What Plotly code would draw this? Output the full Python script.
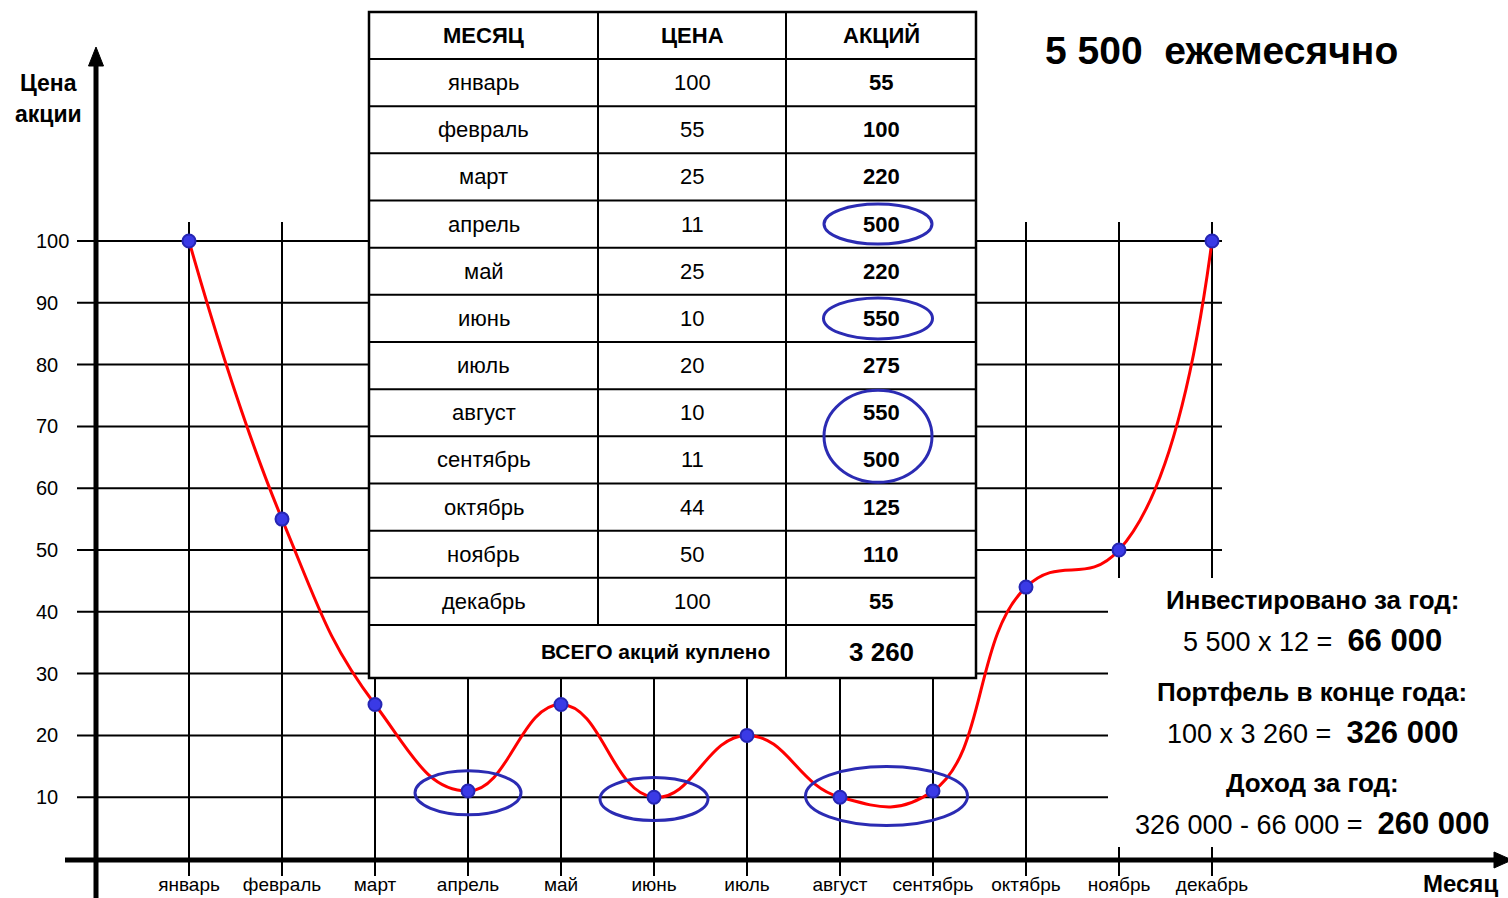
import plotly.graph_objects as go

# ---------------- data ----------------
months = ["январь", "февраль", "март", "апрель", "май", "июнь", "июль",
          "август", "сентябрь", "октябрь", "ноябрь", "декабрь"]
prices = [100, 55, 25, 11, 25, 10, 20, 10, 11, 44, 50, 100]
shares = [55, 100, 220, 500, 220, 550, 275, 550, 500, 125, 110, 55]
y_ticks = [10, 20, 30, 40, 50, 60, 70, 80, 90, 100]
table_header = ["МЕСЯЦ", "ЦЕНА", "АКЦИЙ"]
total_label = "ВСЕГО акций куплено"
total_shares = "3 260"
title_text = "5 500\u00a0\u00a0ежемесячно"
y_title = ["Цена", "акции"]
x_title = "Месяц"
summary_lines = [
    ("Инвестировано за год:", None),
    ("5 500 x 12 =", "66 000"),
    ("Портфель в конце года:", None),
    ("100 x 3 260 =", "326 000"),
    ("Доход за год:", None),
    ("326 000 - 66 000 =", "260 000"),
]
circled_rows = [[3], [5], [7, 8]]   # апрель, июнь, август+сентябрь

# ---------------- layout constants (pixels) ----------------
W, H = 1508, 898
L_MARGIN = 33
X0_PX, DX_PX = 189, 93.0      # pixel of first month, pixels per month
Y0_PX, DY_PX = 859, 6.18      # pixel of price 0, pixels per price unit
FONT = "Liberation Sans, Arial, sans-serif"
BLUE_RING = "#2b2bb3"


def dx(px):
    return (px - X0_PX) / DX_PX


def dy(py):
    return (Y0_PX - py) / DY_PX


fig = go.Figure()
fig.add_trace(go.Scatter(
    x=list(range(len(months))), y=prices, mode="lines+markers",
    line=dict(color="#ff0000", width=3, shape="spline", smoothing=1.3),
    marker=dict(size=13, color="#3a3ae6", line=dict(color="#2626b4", width=2)),
    hoverinfo="skip", showlegend=False, cliponaxis=False,
))

shapes = []
# horizontal grid lines
for v in y_ticks:
    shapes.append(dict(type="line", xref="x", yref="y", x0=dx(77), x1=dx(1222), y0=v, y1=v,
                       line=dict(color="black", width=2), layer="below"))
# vertical grid lines + tick marks
for i in range(len(months)):
    shapes.append(dict(type="line", xref="x", yref="y", x0=i, x1=i, y0=dy(876), y1=dy(222),
                       line=dict(color="black", width=2), layer="below"))
# white cover behind summary text
shapes.append(dict(type="rect", xref="x", yref="y", x0=dx(1108), x1=dx(1520), y0=dy(847), y1=dy(578),
                   fillcolor="white", line=dict(width=0), layer="below"))
# axes
AX_X = dx(96)
shapes.append(dict(type="line", xref="x", yref="y", x0=AX_X, x1=AX_X, y0=dy(905), y1=dy(62),
                   line=dict(color="black", width=5), layer="below"))
shapes.append(dict(type="path", xref="x", yref="y",
                   path=f"M {AX_X},{dy(47)} L {dx(88.5)},{dy(66)} L {dx(103.5)},{dy(66)} Z",
                   fillcolor="black", line=dict(color="black", width=1), layer="below"))
shapes.append(dict(type="line", xref="x", yref="y", x0=dx(65), x1=dx(1498), y0=dy(860), y1=dy(860),
                   line=dict(color="black", width=5), layer="below"))
shapes.append(dict(type="path", xref="x", yref="y",
                   path=f"M {dx(1512)},{dy(860)} L {dx(1494)},{dy(852)} L {dx(1494)},{dy(868)} Z",
                   fillcolor="black", line=dict(color="black", width=1), layer="below"))

# ellipses around chart points
ring_sizes = [(53, 22), (54, 21.5), (81, 29.5)]
for rows, (rx, ry) in zip(circled_rows, ring_sizes):
    cx = sum(rows) / len(rows)
    cy = sum(prices[r] for r in rows) / len(rows) - 0.3
    shapes.append(dict(type="circle", xref="x", yref="y",
                       x0=cx - rx / DX_PX, x1=cx + rx / DX_PX, y0=cy - ry / DY_PX, y1=cy + ry / DY_PX,
                       line=dict(color=BLUE_RING, width=3), layer="above"))

# ---------------- table ----------------
T_COLS = [369, 598, 786, 976]
T_TOP, HEAD_H, ROW_H, TOTAL_H = 12, 47, 47.17, 53
n = len(months)
row_edges = [T_TOP, T_TOP + HEAD_H] + [T_TOP + HEAD_H + ROW_H * (k + 1) for k in range(n)]
T_BOTTOM = row_edges[-1] + TOTAL_H

shapes.append(dict(type="rect", xref="x", yref="y", x0=dx(T_COLS[0]), x1=dx(T_COLS[-1]),
                   y0=dy(T_BOTTOM), y1=dy(T_TOP), fillcolor="white",
                   line=dict(color="black", width=2.5), layer="above"))
for e in row_edges[1:]:
    shapes.append(dict(type="line", xref="x", yref="y", x0=dx(T_COLS[0]), x1=dx(T_COLS[-1]),
                       y0=dy(e), y1=dy(e), line=dict(color="black", width=2), layer="above"))
shapes.append(dict(type="line", xref="x", yref="y", x0=dx(T_COLS[1]), x1=dx(T_COLS[1]),
                   y0=dy(row_edges[-1]), y1=dy(T_TOP), line=dict(color="black", width=2), layer="above"))
shapes.append(dict(type="line", xref="x", yref="y", x0=dx(T_COLS[2]), x1=dx(T_COLS[2]),
                   y0=dy(T_BOTTOM), y1=dy(T_TOP), line=dict(color="black", width=2), layer="above"))

annotations = []
col_c = [(T_COLS[k] + T_COLS[k + 1]) / 2 for k in range(3)]


def txt(px, py, text, size, bold=False, xanchor="center"):
    annotations.append(dict(x=dx(px), y=dy(py), xref="x", yref="y", text=text, showarrow=False,
                            xanchor=xanchor, yanchor="middle",
                            font=dict(family=FONT, size=size, color="black",
                                      weight="bold" if bold else "normal")))


for k, h in enumerate(table_header):
    txt(col_c[k], T_TOP + HEAD_H / 2, h, 22, bold=True)
for r in range(n):
    yc = row_edges[r + 1] + ROW_H / 2
    txt(col_c[0], yc, months[r], 22)
    txt(col_c[1], yc, str(prices[r]), 22)
    txt(col_c[2], yc, str(shares[r]), 22, bold=True)
yc_tot = row_edges[-1] + TOTAL_H / 2
txt(T_COLS[2] - 14, yc_tot, total_label, 21, bold=True, xanchor="right")
txt(col_c[2], yc_tot, total_shares, 26, bold=True)

# ellipses in table
table_ring = [(54, 20), (54.5, 20.5), (54, 46)]
for rows, (rx, ry) in zip(circled_rows, table_ring):
    cy = (row_edges[rows[0] + 1] + row_edges[rows[-1] + 2]) / 2
    cx = 878
    shapes.append(dict(type="circle", xref="x", yref="y",
                       x0=dx(cx - rx), x1=dx(cx + rx), y0=dy(cy + ry), y1=dy(cy - ry),
                       line=dict(color=BLUE_RING, width=3), layer="above"))

# ---------------- text ----------------
txt(1221, 50, "<b>" + title_text + "</b>", 39, bold=True)
txt(48, 83, y_title[0], 23, bold=True)
txt(48, 114, y_title[1], 23, bold=True)
txt(1500, 883, x_title, 24, bold=True, xanchor="right")

summary_y = [600, 640, 692, 732, 783, 823]
for (a, b), yy in zip(summary_lines, summary_y):
    if b is None:
        txt(1312, yy, a, 26, bold=True)
    else:
        txt(1312, yy, a + "\u00a0\u00a0<b><span style='font-size:31px'>" + b + "</span></b>", 27)

fig.update_layout(
    width=W, height=H, margin=dict(l=L_MARGIN, r=0, t=0, b=0, pad=0),
    paper_bgcolor="white", plot_bgcolor="white",
    shapes=shapes, annotations=annotations, showlegend=False, hovermode=False,
    xaxis=dict(range=[dx(L_MARGIN), dx(W)], tickvals=list(range(n)), ticktext=months,
               ticklabelposition="inside", ticks="", showgrid=False, zeroline=False, showline=False,
               tickfont=dict(family=FONT, size=19, color="black"), fixedrange=True),
    yaxis=dict(range=[dy(H), dy(0)], tickvals=y_ticks, ticktext=[str(v) for v in y_ticks],
               ticklabelposition="inside", ticks="", showgrid=False, zeroline=False, showline=False,
               tickfont=dict(family=FONT, size=20, color="black"), fixedrange=True),
)

fig.write_html("out.html", config={"displayModeBar": False},
               post_script="document.body.style.margin='0';document.body.style.overflow='hidden';")
